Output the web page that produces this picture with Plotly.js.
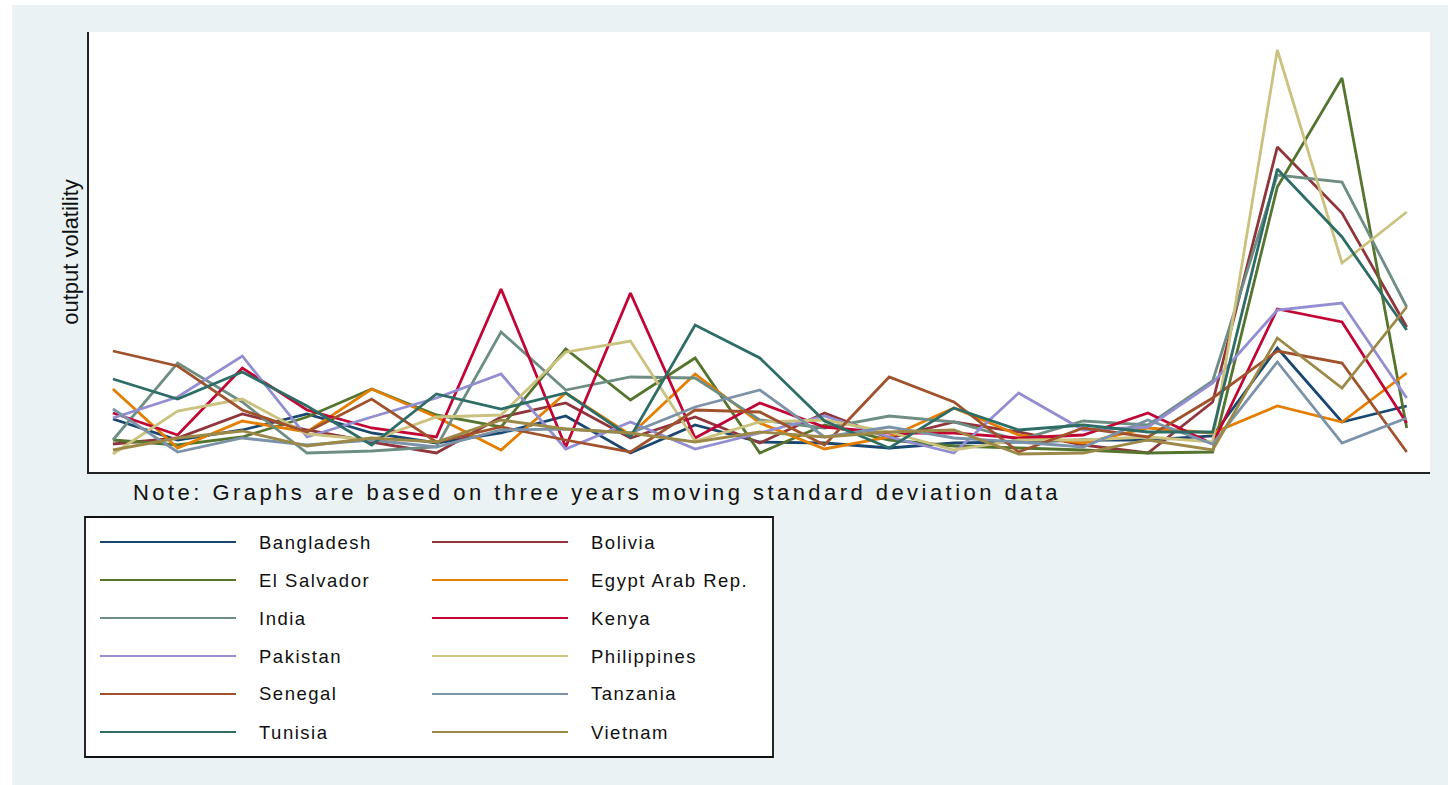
<!DOCTYPE html>
<html>
<head>
<meta charset="utf-8">
<script src="https://cdn.plot.ly/plotly-3.0.1.min.js"></script>
<style>
  html, body { margin: 0; padding: 0; background: #ffffff; }
  #chart { width: 1448px; height: 785px; }
</style>
</head>
<body>
<div id="chart"></div>
<script>
// Three-year moving standard deviation of output, by country
const periods = [1, 2, 3, 4, 5, 6, 7, 8, 9, 10, 11, 12, 13, 14, 15, 16, 17, 18, 19, 20, 21];

const countries = ["Bangladesh", "Bolivia", "El Salvador", "Egypt Arab Rep.", "India", "Kenya",
                   "Pakistan", "Philippines", "Senegal", "Tanzania", "Tunisia", "Vietnam"];

const bangladesh  = [0.53, 0.32, 0.42, 0.58, 0.39, 0.29, 0.39, 0.56, 0.19, 0.47, 0.30, 0.29, 0.24, 0.29, 0.30, 0.32, 0.32, 0.36, 1.24, 0.50, 0.66];
const bolivia     = [0.28, 0.34, 0.58, 0.42, 0.30, 0.19, 0.55, 0.69, 0.34, 0.55, 0.29, 0.59, 0.34, 0.50, 0.40, 0.27, 0.19, 0.70, 3.25, 2.59, 1.45];
const elSalvador  = [0.32, 0.27, 0.35, 0.55, 0.83, 0.57, 0.45, 1.23, 0.72, 1.14, 0.19, 0.47, 0.32, 0.26, 0.24, 0.22, 0.19, 0.20, 2.85, 3.94, 0.44];
const egypt       = [0.83, 0.24, 0.51, 0.40, 0.83, 0.55, 0.22, 0.79, 0.37, 0.98, 0.49, 0.23, 0.35, 0.64, 0.37, 0.29, 0.44, 0.39, 0.66, 0.50, 0.99];
const india       = [0.32, 1.09, 0.70, 0.19, 0.21, 0.25, 1.40, 0.82, 0.95, 0.94, 0.52, 0.44, 0.56, 0.50, 0.32, 0.51, 0.47, 0.91, 2.97, 2.90, 1.65];
const kenya       = [0.59, 0.37, 1.04, 0.62, 0.44, 0.35, 1.83, 0.25, 1.79, 0.34, 0.69, 0.45, 0.39, 0.39, 0.34, 0.37, 0.59, 0.28, 1.63, 1.50, 0.49];
const pakistan    = [0.54, 0.75, 1.16, 0.35, 0.55, 0.74, 0.98, 0.23, 0.50, 0.23, 0.39, 0.56, 0.35, 0.19, 0.79, 0.42, 0.45, 0.89, 1.62, 1.69, 0.74];
const philippines = [0.18, 0.61, 0.73, 0.38, 0.32, 0.55, 0.57, 1.20, 1.31, 0.31, 0.50, 0.52, 0.40, 0.22, 0.32, 0.32, 0.35, 0.30, 4.22, 2.09, 2.60];
const senegal     = [1.21, 1.06, 0.62, 0.40, 0.73, 0.30, 0.45, 0.32, 0.20, 0.62, 0.60, 0.27, 0.95, 0.70, 0.20, 0.44, 0.35, 0.74, 1.21, 1.09, 0.20];
const tanzania    = [0.63, 0.20, 0.34, 0.27, 0.32, 0.25, 0.42, 0.43, 0.39, 0.65, 0.82, 0.35, 0.45, 0.34, 0.30, 0.25, 0.52, 0.28, 1.10, 0.29, 0.54];
const tunisia     = [0.93, 0.73, 1.00, 0.66, 0.27, 0.78, 0.63, 0.79, 0.35, 1.47, 1.14, 0.51, 0.24, 0.64, 0.42, 0.47, 0.40, 0.40, 3.03, 2.35, 1.42];
const vietnam     = [0.22, 0.34, 0.41, 0.26, 0.34, 0.30, 0.52, 0.43, 0.39, 0.30, 0.40, 0.35, 0.40, 0.42, 0.18, 0.19, 0.32, 0.22, 1.34, 0.84, 1.65];

const seriesValues = [bangladesh, bolivia, elSalvador, egypt, india, kenya,
                      pakistan, philippines, senegal, tanzania, tunisia, vietnam];

// s2color palette
const colors = ["#1a476f", "#90353b", "#55752f", "#e37e00", "#6e8e84", "#c10534",
                "#938dd2", "#cac27e", "#a0522d", "#7b92a8", "#2d6d66", "#9c8847"];

const yTitle = "output volatility";
const noteText = "Note: Graphs are based on three years moving standard deviation data";

// Page geometry (pixels)
const W = 1448, H = 785;
const plotL = 89, plotR = 1430, plotT = 32, plotB = 472;
const pw = plotR - plotL, ph = plotB - plotT;
const px = v => (v - plotL) / pw;     // pixel x -> paper x
const py = v => (plotB - v) / ph;     // pixel y -> paper y

const FONT = "Liberation Sans, Arial, Helvetica, sans-serif";

const traces = countries.map((name, i) => ({
  x: periods,
  y: seriesValues[i],
  name: name,
  type: "scatter",
  mode: "lines",
  line: { color: colors[i], width: 2.8 },
  showlegend: false,
  hoverinfo: "name+y"
}));

const shapes = [
  // graph region background
  { type: "rect", xref: "paper", yref: "paper", layer: "below",
    x0: px(12), x1: px(W + 5), y0: py(H + 5), y1: py(5),
    fillcolor: "#eaf2f3", line: { width: 0 } },
  // plot region
  { type: "rect", xref: "paper", yref: "paper", layer: "below",
    x0: 0, x1: 1, y0: 0, y1: 1,
    fillcolor: "#ffffff", line: { width: 0 } },
  // key box
  { type: "rect", xref: "paper", yref: "paper", layer: "above",
    x0: px(85), x1: px(773), y0: py(757), y1: py(517),
    fillcolor: "#ffffff", line: { color: "#111111", width: 1.8 } }
];

const annotations = [
  { xref: "paper", yref: "paper", x: px(131), y: py(492), xanchor: "left", yanchor: "middle",
    align: "left", text: noteText, showarrow: false,
    font: { family: FONT, size: 22, color: "#111111" } }
];

// two-column key: line sample + label per country
countries.forEach((name, i) => {
  const col = i % 2, row = Math.floor(i / 2);
  const yc = 542 + row * 38;
  const lx0 = col === 0 ? 100 : 432;
  shapes.push({ type: "line", xref: "paper", yref: "paper", layer: "above",
    x0: px(lx0), x1: px(lx0 + 136), y0: py(yc), y1: py(yc),
    line: { color: colors[i], width: 2.2 } });
  annotations.push({ xref: "paper", yref: "paper", x: px(lx0 + 157), y: py(yc),
    xanchor: "left", yanchor: "middle", align: "left", text: name, showarrow: false,
    font: { family: FONT, size: 18.5, color: "#111111" } });
});

const layout = {
  width: W, height: H,
  margin: { l: plotL, r: W - plotR, t: plotT, b: H - plotB, pad: 0 },
  paper_bgcolor: "rgba(0,0,0,0)",
  plot_bgcolor: "rgba(0,0,0,0)",
  showlegend: false,
  xaxis: {
    range: [0.63, 21.36], showline: true, linecolor: "#222222", linewidth: 2,
    showgrid: false, zeroline: false, showticklabels: false, ticks: "", fixedrange: true
  },
  yaxis: {
    range: [0, 4.4], showline: true, linecolor: "#222222", linewidth: 2,
    showgrid: false, zeroline: false, showticklabels: false, ticks: "", fixedrange: true,
    title: { text: yTitle, font: { family: FONT, size: 22, color: "#111111" }, standoff: 2 }
  },
  shapes: shapes,
  annotations: annotations
};

Plotly.newPlot("chart", traces, layout, { displayModeBar: false, staticPlot: true }).then(gd => {
  // widen the tracking of the note and key labels
  gd.querySelectorAll("g.annotation").forEach(g => {
    const idx = +g.getAttribute("data-index");
    const t = g.querySelector("text.annotation-text");
    if (t) t.style.letterSpacing = idx === 0 ? "3.45px" : "1.5px";
  });
});
</script>
</body>
</html>
